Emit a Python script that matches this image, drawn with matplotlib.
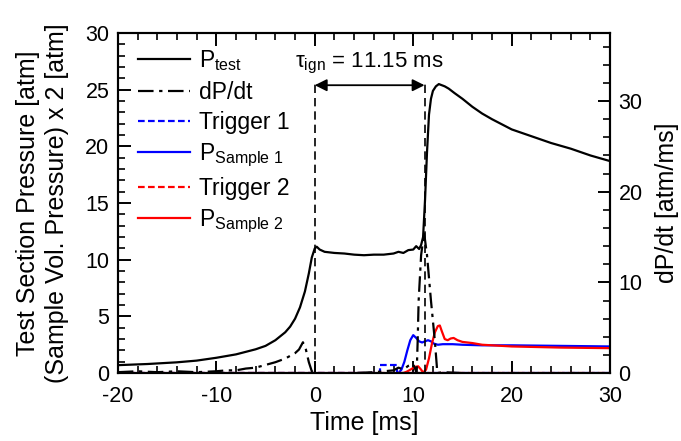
import numpy as np
import matplotlib
matplotlib.use("Agg")
import matplotlib.pyplot as plt
from matplotlib.ticker import MultipleLocator

plt.rcParams['font.family'] = ['Liberation Sans', 'DejaVu Sans']
plt.rcParams['mathtext.fontset'] = 'custom'
plt.rcParams['mathtext.rm'] = 'Liberation Sans'
plt.rcParams['mathtext.it'] = 'Liberation Sans:italic'
plt.rcParams['axes.unicode_minus'] = False

# test section pressure [atm]
t_test = [-20, -17, -14, -12, -10, -8, -6, -5, -4, -3, -2.5, -2, -1.5, -1, -0.6, -0.3,
          0, 0.2, 0.5, 1, 2, 3, 4, 5, 6, 7, 8, 8.5, 9, 9.5, 10, 10.3, 10.6, 10.8,
          11.0, 11.2, 11.4, 11.6, 11.8, 12.0, 12.3, 12.6, 12.9, 13.2, 13.6, 14.2,
          15, 16, 17, 18, 20, 22, 24, 26, 28, 30]
p_test = [0.7, 0.8, 0.95, 1.1, 1.35, 1.65, 2.1, 2.4, 2.9, 3.6, 4.1, 4.8, 5.8, 7.2, 8.8, 10.2,
          11.0, 11.15, 10.9, 10.7, 10.6, 10.55, 10.45, 10.4, 10.45, 10.45, 10.55, 10.7, 10.6,
          10.85, 10.9, 11.2, 10.95, 11.3,
          12.0, 15.3, 19.5, 22.8, 24.2, 24.9, 25.3, 25.5, 25.4, 25.3, 25.1, 24.7,
          24.2, 23.5, 22.9, 22.4, 21.5, 20.9, 20.3, 19.8, 19.2, 18.7]

# dP/dt [atm/ms]
t_dpdt = [-20, -18, -16, -14, -12, -10, -9, -8, -7, -6, -5, -4, -3, -2.5, -2, -1.6, -1.2,
          -0.9, -0.6, -0.3, 0, 2, 4, 6, 8, 8.5, 9, 9.5, 10, 10.35, 10.45, 10.55, 10.8,
          11.1, 11.4, 11.8, 12.2, 12.45, 13, 15, 20, 25, 30]
dpdt = [0.1, 0.2, 0.1, 0.2, 0.1, 0.2, 0.3, 0.3, 0.5, 0.6, 0.9, 1.2, 1.6, 1.9, 2.2, 2.6, 3.4,
        2.6, 1.2, 0.2, 0.0, 0.0, 0.0, 0.1, 0.3, 0.6, 0.4, 0.8, 1.0, 0.0, 3.5, 8.0, 13.0,
        15.5, 13.0, 8.0, 3.5, 0.0, 0.1, 0.0, 0.0, 0.0, 0.0]

# trigger 1 / sample 1
t_trig1 = [-20, 6.6, 6.6, 8.4, 8.4, 30]
trig1 = [0, 0, 0.7, 0.7, 0, 0]
t_s1 = [-20, 8.5, 8.8, 9.1, 9.4, 9.7, 10.0, 10.3, 10.6, 10.9, 11.2, 11.5, 11.8, 12.1,
        12.5, 13, 14, 15, 17, 20, 25, 30]
p_s1 = [0, 0, 0.3, 1.0, 2.0, 2.9, 3.35, 3.1, 2.8, 2.7, 2.8, 2.9, 2.8, 2.6,
        2.5, 2.55, 2.55, 2.5, 2.45, 2.45, 2.4, 2.35]

# trigger 2 / sample 2
t_trig2 = [-20, 30]
trig2 = [0, 0]
t_s2 = [-20, 9.0, 9.4, 9.8, 10.2, 10.5, 10.8, 11.0, 11.3, 11.6, 11.9, 12.2, 12.5, 12.7,
        12.9, 13.2, 13.5, 13.8, 14.1, 14.5, 15, 15.5, 16, 17, 18, 20, 25, 30]
p_s2 = [0, 0, 0.15, 0.35, 0.55, 0.6, 0.3, 0.05, 0.3, 1.3, 2.6, 3.6, 4.15, 4.2,
        3.7, 3.0, 2.9, 3.05, 3.1, 2.9, 2.75, 2.7, 2.65, 2.5, 2.45, 2.35, 2.25, 2.2]

t_ign = 11.15

fig = plt.figure(figsize=(6.81, 4.41), dpi=100)
ax = fig.add_axes([0.173, 0.154, 0.723, 0.771])
ax2 = ax.twinx()

l1, = ax.plot(t_test, p_test, color='black', lw=1.6)
l3, = ax.plot(t_trig1, trig1, color='blue', lw=1.6, ls=(0, (3, 1.5)))
l4, = ax.plot(t_s1, p_s1, color='blue', lw=1.6)
l5, = ax.plot(t_trig2, trig2, color='red', lw=1.6, ls=(0, (3, 1.5)))
l6, = ax.plot(t_s2, p_s2, color='red', lw=1.6)
l2, = ax2.plot(t_dpdt, dpdt, color='black', lw=1.6, ls=(0, (7, 2.5, 1.5, 2.5)))

# ignition delay annotation
ax.plot([0, 0], [0, 25.8], color='black', lw=1.2, ls=(0, (5, 3)))
ax.plot([t_ign, t_ign], [0, 25.8], color='black', lw=1.2, ls=(0, (5, 3)))
ax.annotate('', xy=(0, 25.4), xytext=(t_ign, 25.4),
            arrowprops=dict(arrowstyle='<|-|>', color='black', lw=1.3,
                            shrinkA=0, shrinkB=0, mutation_scale=18))
ax.text(5.5, 27.0, r'τ$_{\rm ign}$ = 11.15 ms', ha='center', va='baseline', fontsize=16)

ax.set_xlim(-20, 30)
ax.set_ylim(0, 30)
ax2.set_ylim(0, 37.5)
ax.xaxis.set_major_locator(MultipleLocator(10))
ax.xaxis.set_minor_locator(MultipleLocator(2))
ax.yaxis.set_major_locator(MultipleLocator(5))
ax.yaxis.set_minor_locator(MultipleLocator(1))
ax2.yaxis.set_major_locator(MultipleLocator(10))
ax2.yaxis.set_minor_locator(MultipleLocator(2))

for a in (ax, ax2):
    a.tick_params(which='major', direction='in', length=9, width=1.4, labelsize=15.5, pad=6)
    a.tick_params(which='minor', direction='in', length=5, width=1.2)
    for s in a.spines.values():
        s.set_linewidth(1.5)
ax.tick_params(which='both', top=True, right=False)
ax.tick_params(axis='x', pad=9)

ax.set_xlabel('Time [ms]', fontsize=18, labelpad=3)
ax.set_ylabel('Test Section Pressure [atm]\n(Sample Vol. Pressure) x 2 [atm]',
              fontsize=18, linespacing=1.25, labelpad=12)
ax2.set_ylabel('dP/dt [atm/ms]', fontsize=18, labelpad=9)

ax.legend([l1, l2, l3, l4, l5, l6],
          [r'P$_{\rm test}$', 'dP/dt', 'Trigger 1', r'P$_{\rm Sample\ 1}$',
           'Trigger 2', r'P$_{\rm Sample\ 2}$'],
          loc='upper left', bbox_to_anchor=(0.04, 0.955), frameon=False, fontsize=16.5,
          handlelength=2.3, handletextpad=0.4, labelspacing=0.33,
          borderpad=0, borderaxespad=0)

fig.savefig('out.png', dpi=100)
